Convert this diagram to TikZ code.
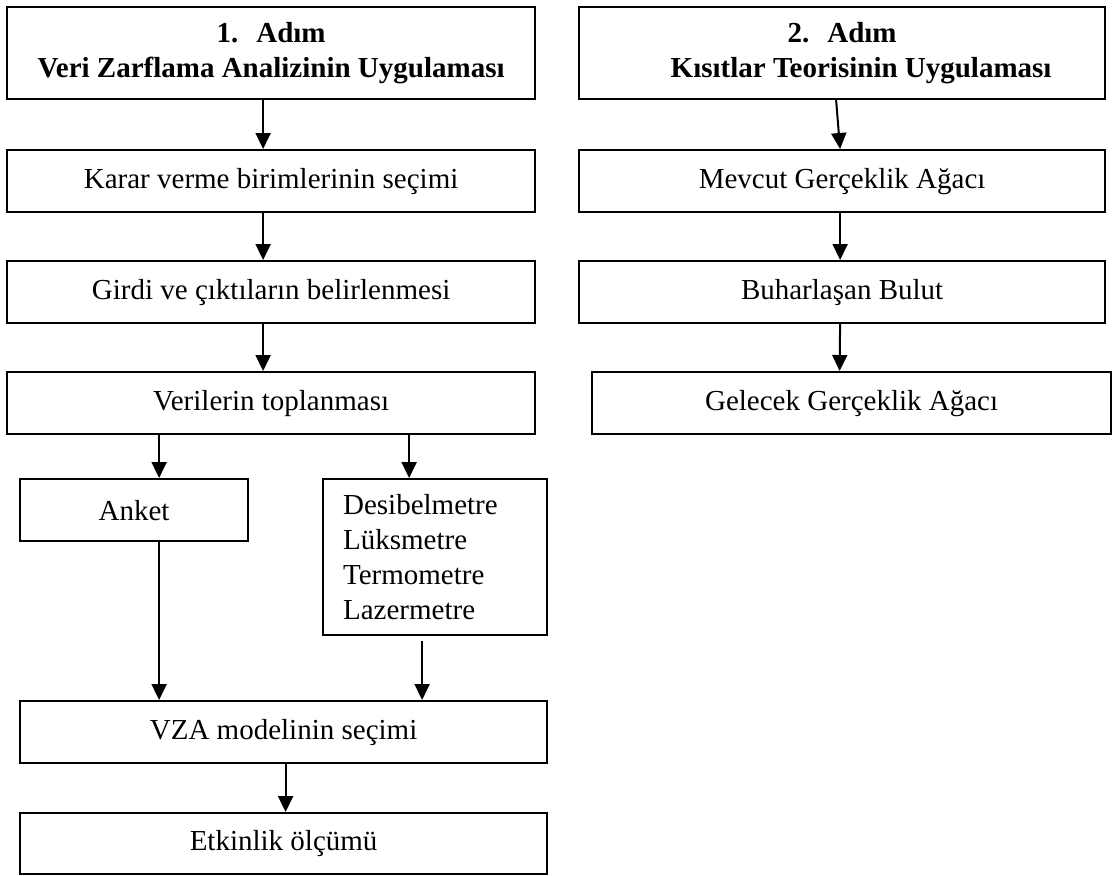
\documentclass[tikz,border=0pt]{standalone}
\usepackage{fontspec}
\setmainfont{Liberation Serif}
\usetikzlibrary{arrows.meta,positioning,calc}

\begin{document}
\begin{tikzpicture}[x=0.5pt,y=-0.5pt,
    box/.style={draw=black,line width=1.1pt,anchor=north west,inner sep=0pt,font=\fontsize{14.5}{17.5}\selectfont,minimum height=31pt},
    head/.style={box,font=\fontsize{14.5}{17.5}\selectfont\bfseries,align=center,minimum height=46pt},
    flow/.style={-{Triangle[length=8pt,width=7.5pt]},line width=1pt,black}]
  \useasboundingbox (0,0) rectangle (1112,875);
  % 1. Adim
  \node[head,minimum width=264pt] (adim1) at (6,6){1.\hspace{9pt}Adım\\Veri Zarflama Analizinin Uygulaması};
  \node[box,minimum width=264pt] (karar) at (6,149){Karar verme birimlerinin seçimi};
  \node[box,minimum width=264pt] (girdi) at (6,260){Girdi ve çıktıların belirlenmesi};
  \node[box,minimum width=264pt] (veri) at (6,371){Verilerin toplanması};
  \node[box,minimum width=114pt] (anket) at (19,478){Anket};
  \node[box,text width=92pt,inner xsep=10pt,align=left,minimum height=78pt] (olcum) at (322,478){Desibelmetre\\Lüksmetre\\Termometre\\Lazermetre};
  \node[box,minimum width=263.5pt] (vza) at (19,700){VZA modelinin seçimi};
  \node[box,minimum width=263.5pt,minimum height=30.5pt] (etkinlik) at (19,812){Etkinlik ölçümü};
  % 2. Adim
  \node[head,minimum width=263pt] (adim2) at (578,6){2.\hspace{9pt}Adım\\\hspace*{19pt}Kısıtlar Teorisinin Uygulaması};
  \node[box,minimum width=263pt] (mevcut) at (578,149){Mevcut Gerçeklik Ağacı};
  \node[box,minimum width=263pt] (buhar) at (578,260){Buharlaşan Bulut};
  \node[box,minimum width=259.5pt] (gelecek) at (591,371){Gelecek Gerçeklik Ağacı};
  % arrows
  \draw[flow] ([xshift=-4pt]adim1.south) -- ([xshift=-4pt]karar.north);
  \draw[flow] ([xshift=-4pt]karar.south) -- ([xshift=-4pt]girdi.north);
  \draw[flow] ([xshift=-4pt]girdi.south) -- ([xshift=-4pt]veri.north);
  \draw[flow] ([xshift=-56pt]veri.south) -- ([xshift=12.5pt]anket.north);
  \draw[flow] ([xshift=69pt]veri.south) -- ([xshift=-13pt]olcum.north);
  \draw[flow] ([xshift=12.5pt]anket.south) -- ([xshift=-62.25pt]vza.north);
  \draw[flow,shorten <=2.5pt] ([xshift=-6.5pt]olcum.south) -- ([xshift=69.25pt]vza.north);
  \draw[flow] ([xshift=1pt]vza.south) -- ([xshift=1pt]etkinlik.north);
  \draw[flow] ([xshift=-3pt]adim2.south) -- ([xshift=-1pt]mevcut.north);
  \draw[flow] ([xshift=-1pt]mevcut.south) -- ([xshift=-1pt]buhar.north);
  \draw[flow] ([xshift=-1pt]buhar.south) -- ([xshift=-6pt]gelecek.north);
\end{tikzpicture}
\end{document}
